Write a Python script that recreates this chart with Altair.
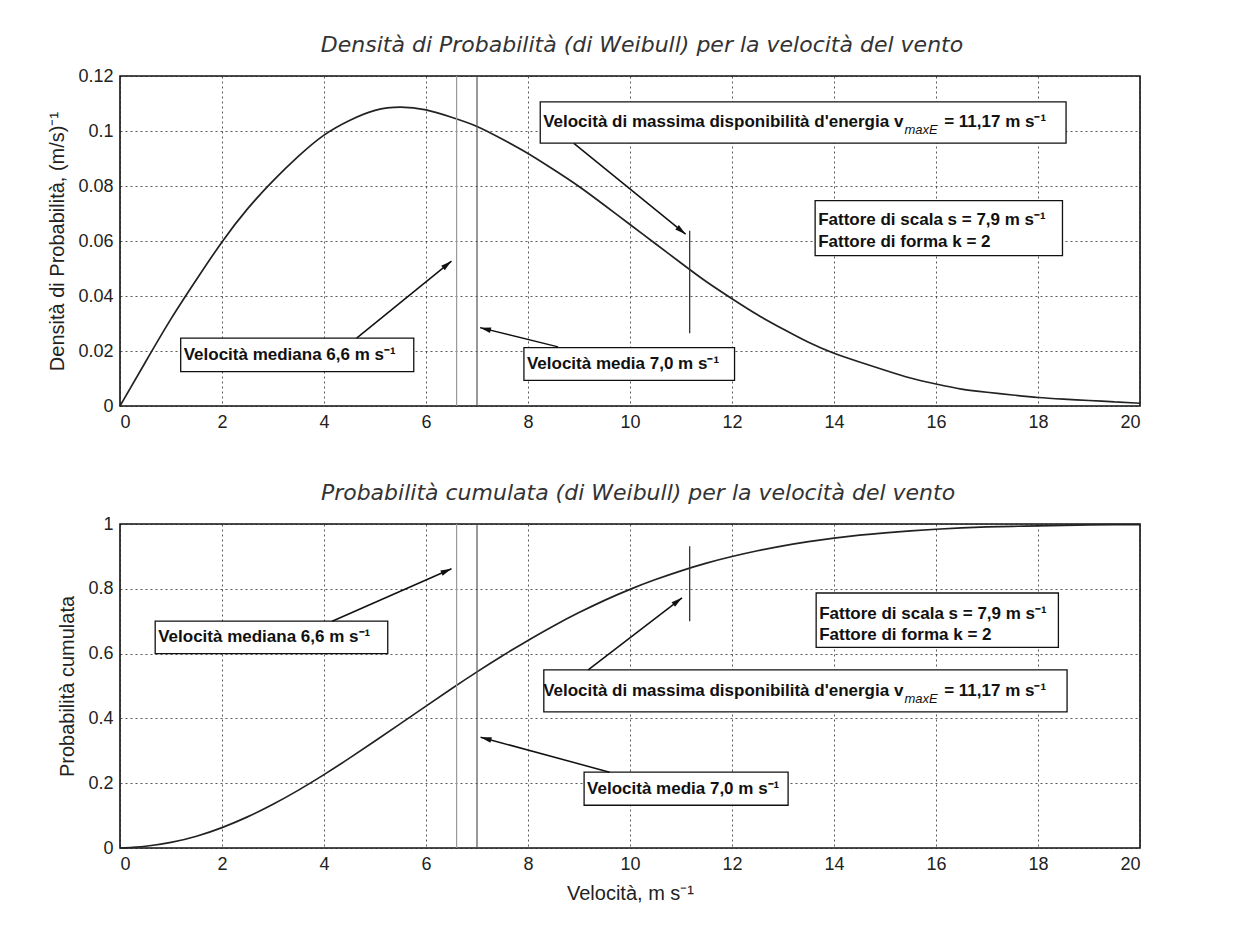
import math
import altair as alt
import pandas as pd

# ---------------- data ----------------
speed = [0, 0.5, 1, 1.5, 2, 2.5, 3, 3.5, 4, 4.5, 5, 5.5, 6, 6.5, 7, 7.5, 8, 8.5, 9, 9.5,
         10, 10.5, 11, 11.5, 12, 12.5, 13, 13.5, 14, 14.5, 15, 15.5, 16, 16.5, 17, 17.5,
         18, 18.5, 19, 19.5, 20]
density = [0, 0.016, 0.032, 0.046, 0.060, 0.072, 0.082, 0.091, 0.099, 0.104, 0.108, 0.109,
           0.108, 0.105, 0.102, 0.097, 0.092, 0.086, 0.080, 0.073, 0.066, 0.059, 0.052,
           0.045, 0.039, 0.033, 0.028, 0.023, 0.019, 0.016, 0.013, 0.010, 0.008, 0.006,
           0.005, 0.004, 0.003, 0.0025, 0.002, 0.0015, 0.001]
cumulative = [0, 0.004, 0.016, 0.035, 0.062, 0.095, 0.134, 0.178, 0.226, 0.277, 0.330, 0.384,
              0.438, 0.492, 0.544, 0.594, 0.641, 0.686, 0.727, 0.765, 0.799, 0.829, 0.856,
              0.880, 0.900, 0.918, 0.933, 0.946, 0.957, 0.966, 0.973, 0.979, 0.984, 0.988,
              0.991, 0.993, 0.994, 0.996, 0.997, 0.998, 0.998]

median_speed = 6.6
mean_speed = 7.0
max_energy_speed = 11.17

x_ticks = [0, 2, 4, 6, 8, 10, 12, 14, 16, 18, 20]
top_y_ticks = [0, 0.02, 0.04, 0.06, 0.08, 0.1, 0.12]
bot_y_ticks = [0, 0.2, 0.4, 0.6, 0.8, 1]

title_top = "Densità di Probabilità (di Weibull) per la velocità del vento"
title_bot = "Probabilità cumulata (di Weibull) per la velocità del vento"
ytitle_top = "Densità di Probabilità, (m/s)⁻¹"
ytitle_bot = "Probabilità cumulata"
xtitle = "Velocità, m s⁻¹"

label_median = "Velocità mediana 6,6 m s⁻¹"
label_mean = "Velocità media 7,0 m s⁻¹"
label_max_a = "Velocità di massima disponibilità d'energia v"
label_max_sub = "maxE"
label_max_b = "= 11,17 m s⁻¹"
label_scale = "Fattore di scala s = 7,9 m s⁻¹"
label_shape = "Fattore di forma k = 2"

# annotation boxes (data units): median, mean, max energy, parameters
top_box_x1 = [1.19, 7.92, 8.24, 13.63]
top_box_x2 = [5.76, 12.05, 18.55, 18.48]
top_box_y1 = [0.0125, 0.0093, 0.0956, 0.0547]
top_box_y2 = [0.0247, 0.0212, 0.1106, 0.0747]
bot_box_x1 = [0.69, 9.10, 8.31, 13.65]
bot_box_x2 = [5.25, 13.10, 18.57, 18.40]
bot_box_y1 = [0.60, 0.132, 0.42, 0.619]
bot_box_y2 = [0.70, 0.234, 0.55, 0.787]

# annotation text anchors
top_text_x = [1.19, 7.92, 15.36, 15.38, 16.16, 13.63, 13.63]
top_text_y = [0.0186, 0.0152, 0.1031, 0.1031, 0.1031, 0.0676, 0.0598]
bot_text_x = [0.69, 9.10, 15.36, 15.38, 16.16, 13.65, 13.65]
bot_text_y = [0.650, 0.183, 0.485, 0.485, 0.485, 0.721, 0.657]

# arrows: tail -> head
top_arrow_x1 = [4.64, 8.59, 8.90]
top_arrow_y1 = [0.0247, 0.0215, 0.0955]
top_arrow_x2 = [6.50, 7.06, 11.09]
top_arrow_y2 = [0.0527, 0.0285, 0.0625]
bot_arrow_x1 = [4.16, 9.60, 9.18]
bot_arrow_y1 = [0.700, 0.234, 0.550]
bot_arrow_x2 = [6.50, 7.07, 11.02]
bot_arrow_y2 = [0.862, 0.342, 0.772]

# vertical marker at the max energy speed
top_mark_y = [0.0265, 0.0637]
bot_mark_y = [0.700, 0.931]

# ---------------- styling ----------------
W = 1020
H_TOP = 330
H_BOT = 324
FONT = "Liberation Sans"
TITLE_FONT = "DejaVu Sans"
BOX_FONT = "Liberation Sans"
ARROW_PATH = "M0,0L-0.26,1L0.26,1Z"


def panel(curve, ymax, yticks, yfmt, height, bx1, bx2, by1, by2, tx, ty,
          ax1, ay1, ax2, ay2, mark_y, title, title_dx, ytitle, show_xtitle):
    xs = alt.Scale(domain=[0, 20], nice=False, zero=False)
    ys = alt.Scale(domain=[0, ymax], nice=False, zero=False)
    x_axis = alt.Axis(values=x_ticks, grid=True, ticks=False, domain=False,
                      title=xtitle if show_xtitle else None, format="d")
    y_axis = alt.Axis(values=yticks, grid=True, ticks=False, domain=False,
                      title=ytitle, format=yfmt)

    def X(f):
        return alt.X(f, scale=xs, axis=x_axis)

    def Y(f):
        return alt.Y(f, scale=ys, axis=y_axis)

    curve_df = pd.DataFrame({"v": speed, "p": curve})
    line = alt.Chart(curve_df).mark_line(color="#222", strokeWidth=1.7,
                                         interpolate="basis").encode(
        x=X("v:Q"), y=Y("p:Q"),
    )

    vdf = pd.DataFrame({"v": [median_speed, mean_speed], "c": ["#9a9a9a", "#555555"]})
    vlines = alt.Chart(vdf).mark_rule(strokeWidth=1.2).encode(
        x=X("v:Q"), color=alt.Color("c:N", scale=None),
    )

    bdf = pd.DataFrame({"x1": bx1, "x2": bx2, "y1": by1, "y2": by2})
    boxes = alt.Chart(bdf).mark_rect(fill="white", stroke="#111", strokeWidth=1.3).encode(
        x=X("x1:Q"), x2="x2:Q", y=Y("y1:Q"), y2="y2:Q",
    )

    mdf = pd.DataFrame({"v": [max_energy_speed], "y1": [mark_y[0]], "y2": [mark_y[1]]})
    marker = alt.Chart(mdf).mark_rule(color="#333", strokeWidth=1.3).encode(
        x=X("v:Q"), y=Y("y1:Q"), y2="y2:Q",
    )

    # arrow geometry in pixels to orient the heads
    angles = []
    for x1, y1, x2, y2 in zip(ax1, ay1, ax2, ay2):
        dxp = (x2 - x1) * W / 20.0
        dyp = -(y2 - y1) * height / ymax
        angles.append(math.degrees(math.atan2(dxp, -dyp)) % 360)
    adf = pd.DataFrame({"x1": ax1, "y1": ay1, "x2": ax2, "y2": ay2, "ang": angles})
    shafts = alt.Chart(adf).mark_rule(color="#111", strokeWidth=1.5).encode(
        x=X("x1:Q"), x2="x2:Q", y=Y("y1:Q"), y2="y2:Q",
    )
    heads = alt.Chart(adf).mark_point(shape=ARROW_PATH, filled=True, size=480,
                                      color="#111", opacity=1).encode(
        x=X("x2:Q"), y=Y("y2:Q"), angle=alt.Angle("ang:Q", scale=None),
    )

    def txt(idx, labels, align, dx=0, dy=0, size=17, style="normal", weight="bold"):
        df = pd.DataFrame({"x": [tx[i] for i in idx], "y": [ty[i] for i in idx], "t": labels})
        return alt.Chart(df).mark_text(align=align, baseline="middle", dx=dx, dy=dy,
                                       font=BOX_FONT, fontSize=size, fontWeight=weight,
                                       fontStyle=style, color="#111").encode(
            x=X("x:Q"), y=Y("y:Q"), text="t:N",
        )

    texts = [
        txt([0, 1, 5, 6], [label_median, label_mean, label_scale, label_shape], "left", dx=3),
        txt([2], [label_max_a], "right"),
        txt([3], [label_max_sub], "left", dy=8, size=13, style="italic", weight="normal"),
        txt([4], [label_max_b], "left"),
    ]

    return alt.layer(line, vlines, boxes, marker, shafts, heads, *texts).properties(
        width=W, height=height,
        title=alt.TitleParams(title, fontStyle="italic", fontWeight="normal", fontSize=22,
                              font=TITLE_FONT, color="#333", offset=10, dx=title_dx),
    )


top = panel(density, 0.12, top_y_ticks, ".2~f", H_TOP, top_box_x1, top_box_x2, top_box_y1,
            top_box_y2, top_text_x, top_text_y, top_arrow_x1, top_arrow_y1, top_arrow_x2,
            top_arrow_y2, top_mark_y, title_top, 12, ytitle_top, False)
bot = panel(cumulative, 1.0, bot_y_ticks, ".1~f", H_BOT, bot_box_x1, bot_box_x2, bot_box_y1,
            bot_box_y2, bot_text_x, bot_text_y, bot_arrow_x1, bot_arrow_y1, bot_arrow_x2,
            bot_arrow_y2, bot_mark_y, title_bot, 8, ytitle_bot, True)

chart = alt.vconcat(top, bot, spacing=49).properties(
    padding={"left": 39, "top": 25, "right": 5, "bottom": 5},
    background="white",
).configure_view(
    stroke="#111", strokeWidth=1.6,
).configure_axis(
    labelFont=FONT, labelFontSize=18, labelColor="#222", labelPadding=7,
    titleFont=FONT, titleFontSize=20, titleFontWeight="normal", titleColor="#222",
    titlePadding=10,
    gridColor="#222", gridDash=[2, 3], gridOpacity=0.75, gridWidth=1,
)

chart.save("out.html", embed_options={"renderer": "svg", "actions": False})
